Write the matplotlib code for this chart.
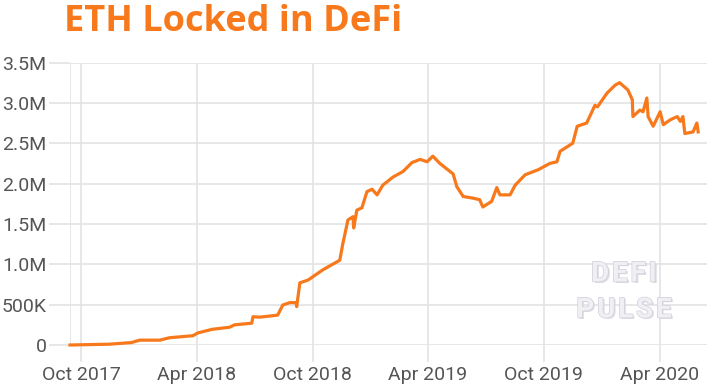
import matplotlib
matplotlib.use("Agg")
import matplotlib.pyplot as plt
import matplotlib.patheffects as pe
import pandas as pd

# ETH locked in DeFi (millions)
dates = [
    "2017-09-13", "2017-11-14", "2017-12-19", "2018-01-01", "2018-02-02",
    "2018-02-17", "2018-03-26", "2018-04-03", "2018-04-26", "2018-05-23",
    "2018-05-31", "2018-06-27", "2018-06-29", "2018-07-10", "2018-08-07",
    "2018-08-15", "2018-08-26", "2018-09-05", "2018-09-06", "2018-09-11",
    "2018-09-24", "2018-10-17", "2018-11-13", "2018-11-18", "2018-11-26",
    "2018-12-04", "2018-12-05", "2018-12-10", "2018-12-18", "2018-12-26",
    "2019-01-03", "2019-01-11", "2019-01-20", "2019-02-05", "2019-02-21",
    "2019-03-07", "2019-03-20", "2019-03-31", "2019-04-09", "2019-04-20",
    "2019-05-11", "2019-05-17", "2019-05-27", "2019-06-11", "2019-06-22",
    "2019-06-27", "2019-07-11", "2019-07-19", "2019-07-24", "2019-08-09",
    "2019-08-17", "2019-08-28", "2019-09-02", "2019-09-22", "2019-10-11",
    "2019-10-22", "2019-10-27", "2019-11-16", "2019-11-23", "2019-12-08",
    "2019-12-21", "2019-12-25", "2020-01-09", "2020-01-22", "2020-01-29",
    "2020-02-11", "2020-02-18", "2020-02-19", "2020-03-01", "2020-03-06",
    "2020-03-12", "2020-03-14", "2020-03-22", "2020-04-02", "2020-04-07",
    "2020-04-18", "2020-04-29", "2020-05-04", "2020-05-08", "2020-05-11",
    "2020-05-24", "2020-05-30", "2020-06-01",
]
eth_locked_m = [
    0.0, 0.01, 0.03, 0.06, 0.06,
    0.09, 0.115, 0.15, 0.195, 0.22,
    0.25, 0.27, 0.35, 0.345, 0.37,
    0.495, 0.525, 0.525, 0.475, 0.77,
    0.805, 0.93, 1.05, 1.26, 1.55,
    1.59, 1.45, 1.67, 1.70, 1.90,
    1.93, 1.86, 1.98, 2.08, 2.15,
    2.26, 2.30, 2.27, 2.34, 2.25,
    2.12, 1.96, 1.84, 1.82, 1.80,
    1.71, 1.78, 1.95, 1.86, 1.86,
    1.98, 2.07, 2.11, 2.17, 2.25,
    2.27, 2.40, 2.50, 2.71, 2.75,
    2.97, 2.95, 3.12, 3.22, 3.25,
    3.16, 3.04, 2.83, 2.91, 2.89,
    3.06, 2.83, 2.71, 2.89, 2.73,
    2.79, 2.83, 2.77, 2.83, 2.62,
    2.64, 2.75, 2.64,
]
y_ticks = [0, 0.5, 1.0, 1.5, 2.0, 2.5, 3.0, 3.5]
y_labels = ["0", "500K", "1.0M", "1.5M", "2.0M", "2.5M", "3.0M", "3.5M"]
x_ticks = ["2017-10-01", "2018-04-01", "2018-10-01", "2019-04-01", "2019-10-01", "2020-04-01"]
x_labels = ["Oct 2017", "Apr 2018", "Oct 2018", "Apr 2019", "Oct 2019", "Apr 2020"]

ORANGE = "#f7791c"
GRID = "#e3e3e3"
TEXT = "#555555"

plt.rcParams["font.family"] = ["Roboto", "DejaVu Sans"]

W, H = 707, 390
fig = plt.figure(figsize=(W / 100, H / 100), dpi=100)
ax = fig.add_axes([70 / W, (H - 345) / H, (W - 70) / W, (345 - 62.5) / H])

x = pd.to_datetime(dates)
ax.plot(x, eth_locked_m, color=ORANGE, lw=2.3, solid_joinstyle="round", clip_on=False, zorder=3)

ax.set_xlim(pd.Timestamp("2017-09-13"), pd.Timestamp("2020-06-15"))
ax.set_ylim(0, 3.5)

ax.set_yticks(y_ticks)
ax.set_yticklabels(y_labels)
ax.set_xticks(pd.to_datetime(x_ticks))
ax.set_xticklabels(x_labels)

ax.grid(True, color=GRID, lw=1.2)
ax.set_axisbelow(True)
for s in ax.spines.values():
    s.set_visible(False)
ax.axvline(ax.get_xlim()[0], color=GRID, lw=1.2, zorder=0)

ax.tick_params(axis="y", length=15, width=1.2, color=GRID, pad=2, labelsize=14, labelcolor=TEXT)
ax.tick_params(axis="x", length=12, width=1.2, color=GRID, pad=3, labelsize=14, labelcolor=TEXT)

fig.text(64 / W, 1 - 22 / H, "ETH Locked in DeFi", color=ORANGE, fontsize=26,
         fontweight="bold", family=["Open Sans", "DejaVu Sans"], ha="left", va="center")

# watermark
for i, word in enumerate(["D\u200aE\u200aF\u200aI", "P\u200aU\u200aL\u200aS\u200aE"]):
    ty = 1 - (274 + i * 36) / H
    fig.text(624 / W + 1.5 / W, ty - 1.5 / H, word, color="#dcdce4", fontsize=20,
             fontweight="bold", ha="center", va="center", zorder=5)
    fig.text(624 / W, ty, word, color="#f0f0f4", fontsize=20, fontweight="bold",
             ha="center", va="center", zorder=6,
             path_effects=[pe.withStroke(linewidth=1.0, foreground="#d0d0da")])

fig.savefig("out.png", dpi=100, facecolor="white")
